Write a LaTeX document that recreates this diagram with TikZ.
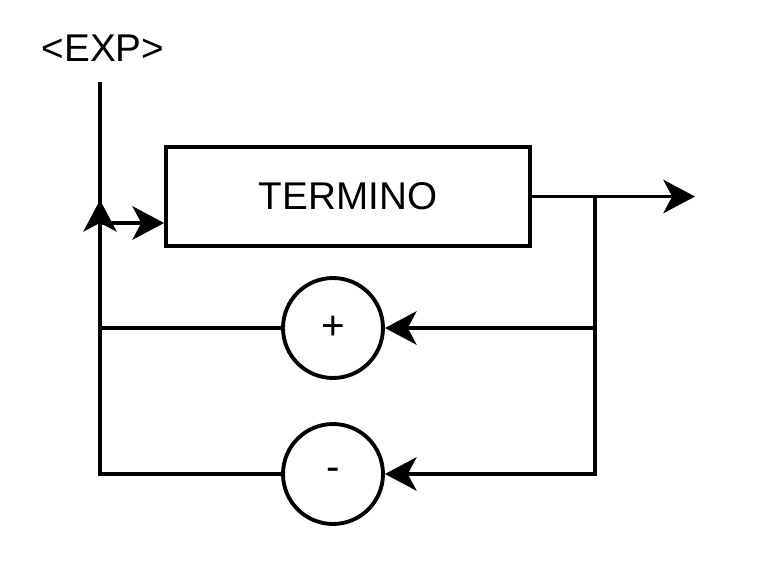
\documentclass[tikz,border=0pt]{standalone}
\usepackage{fontspec}
\setmainfont{Liberation Sans}
\usetikzlibrary{arrows.meta}
\begin{document}
\begin{tikzpicture}[x=0.02cm, y=-0.02cm, line width=2.2pt,
    >={Stealth[length=18pt, width=19pt, inset=5pt]},
    explabel/.style={font=\fontsize{22}{26}\selectfont},
    termbox/.style={draw, minimum width=7.28cm, minimum height=1.98cm, inner sep=0pt, font=\fontsize{22}{26}\selectfont},
    opcircle/.style={draw, circle, minimum size=2cm, inner sep=0pt, font=\fontsize{23}{27}\selectfont}]
    \useasboundingbox (0,0) rectangle (768,578);

    \node[explabel] (exp) at (103,48) {<EXP>};
    \node[termbox] (term) at (348,196.5) {TERMINO};
    \node[opcircle] (plus) at (333,328) {+};
    \node[opcircle] (minus) at (333,474) {-};

    \coordinate (top) at (100,82);
    \coordinate (in) at (100,223);
    \coordinate (up) at (100,200);
    \coordinate (split) at (595,196.5);
    \coordinate (out) at (695,196.5);

    % entry and exit
    \draw (top) -- (in);
    \draw[->] (in) -- (in -| term.west);
    \draw[->] (term.east) -- (out);

    % loops back through the operators
    \draw[->] (split) |- (plus.east);
    \draw[->] (split) |- (minus.east);
    \draw (plus.west) -- (plus.west -| up);
    \draw[->] (minus.west) -| (up);
\end{tikzpicture}
\end{document}
